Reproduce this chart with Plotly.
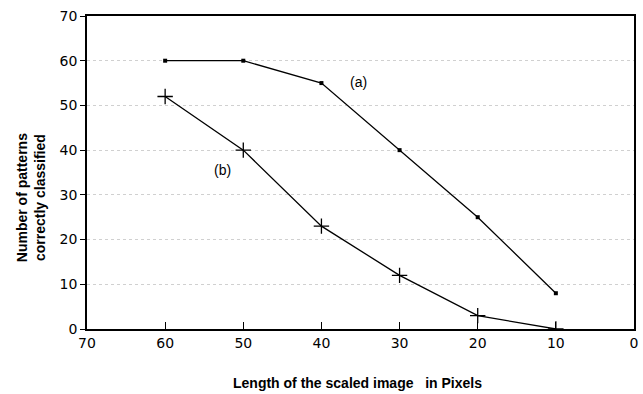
import plotly.graph_objects as go

x_len = [60, 50, 40, 30, 20, 10]
series_a = [60, 60, 55, 40, 25, 8]
series_b = [52, 40, 23, 12, 3, 0]
x_ticks = [70, 60, 50, 40, 30, 20, 10, 0]
y_ticks = [0, 10, 20, 30, 40, 50, 60, 70]

fig = go.Figure()
fig.add_trace(go.Scatter(x=x_len, y=series_a, mode="lines+markers",
                         line=dict(color="black", width=1.3),
                         marker=dict(symbol="square", size=4, color="black")))
fig.add_trace(go.Scatter(x=x_len, y=series_b, mode="lines+markers",
                         line=dict(color="black", width=1.3),
                         marker=dict(symbol="cross-thin", size=11,
                                     line=dict(color="black", width=1.3))))

fig.add_annotation(x=35.3, y=55.2, text="(a)", showarrow=False,
                   font=dict(family="Liberation Sans", size=14, color="black"))
fig.add_annotation(x=52.6, y=35.6, text="(b)", showarrow=False,
                   font=dict(family="Liberation Sans", size=14, color="black"))

title_font = dict(family="Liberation Sans", size=14, color="black", weight="bold")
fig.add_annotation(xref="paper", yref="paper", x=-0.103, y=0.42,
                   text="Number of patterns<br>correctly classified", textangle=-90,
                   showarrow=False, xanchor="center", yanchor="middle", font=title_font)
fig.add_annotation(xref="paper", yref="paper", x=0.495, y=-0.173,
                   text="Length of the scaled image   in Pixels",
                   showarrow=False, xanchor="center", yanchor="middle", font=title_font)

fig.update_layout(
    width=643, height=394,
    margin=dict(l=87, r=5, t=16, b=65),
    paper_bgcolor="white", plot_bgcolor="white",
    showlegend=False,
    font=dict(family="DejaVu Sans", size=14, color="black"),
)
fig.update_xaxes(range=[70, 0], tickvals=x_ticks, ticks="inside", ticklen=7,
                 tickcolor="black", showline=True, linecolor="black", linewidth=1.5,
                 mirror=True, showgrid=False, zeroline=False,
                 tickfont=dict(family="DejaVu Sans", size=14))
fig.update_yaxes(range=[0, 70], tickvals=y_ticks, ticks="outside", ticklen=5,
                 tickcolor="black", showline=True, linecolor="black", linewidth=1.5,
                 mirror=True, showgrid=True, gridcolor="#d0d0d0", griddash="dot",
                 gridwidth=1, zeroline=False,
                 tickfont=dict(family="DejaVu Sans", size=14))

fig.write_html("out.html")
